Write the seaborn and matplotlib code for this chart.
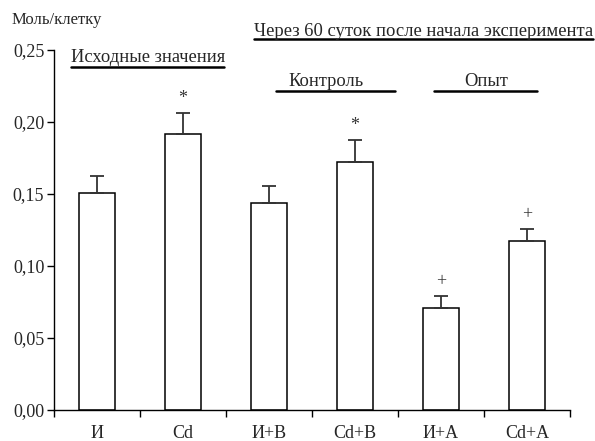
import matplotlib
matplotlib.use("Agg")
import matplotlib.pyplot as plt
from matplotlib.lines import Line2D
import seaborn as sns
import pandas as pd

# data
groups = ["И", "Cd", "И+В", "Cd+В", "И+А", "Cd+А"]
means = [0.151, 0.192, 0.144, 0.172, 0.0706, 0.1174]
errors = [0.0115, 0.0145, 0.0114, 0.0155, 0.0086, 0.0083]
marks = ["", "*", "", "*", "+", "+"]

df = pd.DataFrame({"group": groups, "value": means})

sns.set_style("ticks")
plt.rcParams["font.family"] = ["Liberation Serif", "DejaVu Serif"]

fig = plt.figure(figsize=(5.95, 4.41), dpi=100)
ax = fig.add_axes([54 / 595, 1 - 410 / 441, (570 - 54) / 595, (410 - 50) / 441])

sns.barplot(data=df, x="group", y="value", color="white", edgecolor="black",
            linewidth=1.1, width=0.41, errorbar=None, ax=ax)

# one-sided error bars
xs = range(len(groups))
ax.errorbar(xs, means, yerr=[[0] * len(errors), errors], fmt="none",
            ecolor="#333333", elinewidth=1.3, capsize=5, capthick=1.3)

for x, m, e, s in zip(xs, means, errors, marks):
    if s:
        ax.annotate(s, (x, m + e), xytext=(0, 4), textcoords="offset points",
                    ha="center", va="bottom", fontsize=13, color="#333333")

ax.set_xlim(-0.5, len(groups) - 0.5)
ax.set_ylim(0, 0.25)
ax.set_yticks([0, 0.05, 0.10, 0.15, 0.20, 0.25])
ax.set_yticklabels(["0,00", "0,05", "0,10", "0,15", "0,20", "0,25"], fontsize=13)
ax.set_xticks([i - 0.5 for i in range(len(groups) + 1)])
ax.set_xticklabels([])
ax.set_xticks(list(xs), minor=True)
ax.set_xticklabels(groups, minor=True, fontsize=13)
ax.tick_params(axis="x", which="minor", length=0, pad=11)
ax.tick_params(axis="both", which="major", direction="out", length=5, width=1, color="black")
ax.tick_params(axis="y", pad=2)
ax.set_xlabel("")
ax.set_ylabel("")
sns.despine(ax=ax)
for sp in ["left", "bottom"]:
    ax.spines[sp].set_linewidth(1)
    ax.spines[sp].set_color("black")

# headers
fig.text(12 / 595, 1 - 20 / 441, "Моль/клетку", fontsize=12, va="center", ha="left")
fig.text(71 / 595, 1 - 57 / 441, "Исходные значения", fontsize=13.3, va="center", ha="left")
fig.text(254 / 595, 1 - 31 / 441, "Через 60 суток после начала эксперимента", fontsize=13.4,
         va="center", ha="left")
fig.text(326 / 595, 1 - 82 / 441, "Контроль", fontsize=13.3, va="center", ha="center")
fig.text(486 / 595, 1 - 82 / 441, "Опыт", fontsize=13.3, va="center", ha="center")

for x0, x1, y in [(71, 224, 67), (254, 593, 39), (276, 395, 91), (434, 537, 91)]:
    fig.add_artist(Line2D([x0 / 595, x1 / 595], [1 - y / 441, 1 - y / 441],
                          color="black", linewidth=1.8))

fig.savefig("out.png", dpi=100)
